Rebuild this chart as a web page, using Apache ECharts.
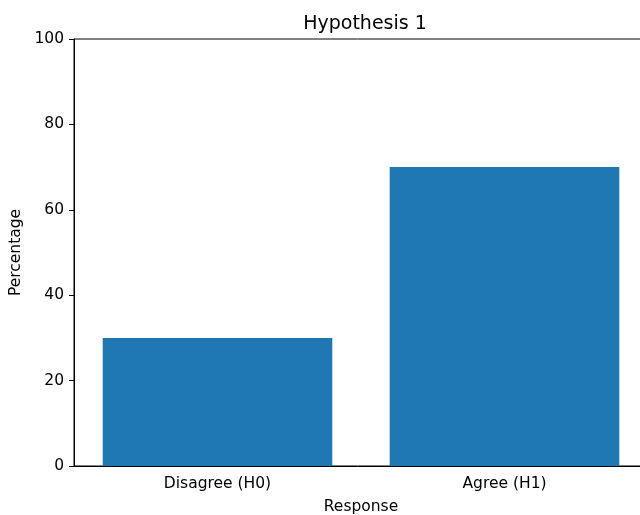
<!DOCTYPE html>
<html>
<head>
<meta charset="utf-8">
<script src="https://cdn.jsdelivr.net/npm/echarts@6/dist/echarts.min.js"></script>
<style>
  html, body { margin: 0; padding: 0; background: #fff; }
  #chart { width: 640px; height: 515px; }
</style>
</head>
<body>
<div id="chart"></div>
<script>
// data
const categories = ['Disagree (H0)', 'Agree (H1)'];
const percentages = [30, 70];
const yTicks = [0, 20, 40, 60, 80, 100];

const chart = echarts.init(document.getElementById('chart'));
const font = 'DejaVu Sans';

const option = {
  animation: false,
  title: {
    text: 'Hypothesis 1',
    left: 360,
    textAlign: 'center',
    top: 10,
    textStyle: { fontFamily: font, fontSize: 19, fontWeight: 'normal', color: '#000' }
  },
  grid: {
    left: 74,
    right: -8,
    top: 39,
    bottom: 49,
    containLabel: false,
    outerBoundsMode: 'none', // plot area runs past the right edge like the reference
    show: true,
    borderColor: '#000',
    borderWidth: 1
  },
  xAxis: {
    type: 'category',
    data: categories,
    name: 'Response',
    nameLocation: 'middle',
    nameGap: 33,
    nameTextStyle: { fontFamily: font, fontSize: 15.5, color: '#000' },
    axisLine: { lineStyle: { color: '#000', width: 1 } },
    axisTick: { alignWithLabel: true, length: 5, lineStyle: { color: '#000' } },
    axisLabel: { fontFamily: font, fontSize: 15.5, color: '#000', margin: 10 },
    splitLine: { show: false }
  },
  yAxis: {
    type: 'value',
    min: yTicks[0],
    max: yTicks[yTicks.length - 1],
    interval: 20,
    name: 'Percentage',
    nameLocation: 'middle',
    nameGap: 45,
    nameTextStyle: { fontFamily: font, fontSize: 15.5, color: '#000' },
    axisLine: { show: true, lineStyle: { color: '#000', width: 1 } },
    axisTick: { show: true, length: 5, lineStyle: { color: '#000' } },
    axisLabel: { fontFamily: font, fontSize: 15.5, color: '#000', margin: 10 },
    splitLine: { show: false }
  },
  series: [
    {
      type: 'bar',
      data: percentages,
      barWidth: '80%',
      itemStyle: { color: '#1f77b4' }
    }
  ]
};

chart.setOption(option);
</script>
</body>
</html>
